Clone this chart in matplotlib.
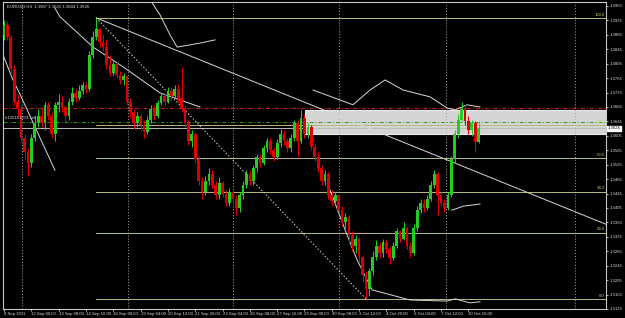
import matplotlib
matplotlib.use("Agg")
import matplotlib.pyplot as plt
from matplotlib.patches import Rectangle

plt.rcParams["font.family"] = ["Liberation Sans", "DejaVu Sans"]

# EURUSD H4 candles, bar index = position
closes = [1.3912, 1.3880, 1.3790, 1.3700, 1.3680, 1.3600, 1.3560, 1.3530, 1.3600, 1.3640,
          1.3660, 1.3640, 1.3690, 1.3660, 1.3610, 1.3690, 1.3700, 1.3685, 1.3660, 1.3700,
          1.3725, 1.3710, 1.3730, 1.3745, 1.3735, 1.3830, 1.3880, 1.3900, 1.3865, 1.3850,
          1.3800, 1.3780, 1.3805, 1.3775, 1.3760, 1.3770, 1.3700, 1.3670, 1.3640, 1.3660,
          1.3635, 1.3615, 1.3650, 1.3680, 1.3660, 1.3695, 1.3715, 1.3700, 1.3730, 1.3715,
          1.3735, 1.3710, 1.3680, 1.3640, 1.3590, 1.3610, 1.3540, 1.3480, 1.3450, 1.3480,
          1.3500, 1.3470, 1.3440, 1.3475, 1.3445, 1.3420, 1.3450, 1.3430, 1.3405, 1.3440,
          1.3470, 1.3500, 1.3480, 1.3515, 1.3545, 1.3530, 1.3570, 1.3590, 1.3565, 1.3545,
          1.3585, 1.3610, 1.3590, 1.3570, 1.3600, 1.3640, 1.3590, 1.3655, 1.3610, 1.3630,
          1.3575, 1.3545, 1.3515, 1.3480, 1.3500, 1.3440, 1.3425, 1.3440, 1.3400, 1.3365,
          1.3380, 1.3330, 1.3300, 1.3320, 1.3270, 1.3220, 1.3180, 1.3230, 1.3270, 1.3300,
          1.3280, 1.3310, 1.3290, 1.3265, 1.3300, 1.3340, 1.3320, 1.3350, 1.3300, 1.3280,
          1.3350, 1.3400, 1.3420, 1.3405, 1.3430, 1.3470, 1.3500, 1.3440, 1.3420, 1.3405,
          1.3440, 1.3540, 1.3610, 1.3650, 1.3680, 1.3645, 1.3620, 1.3640, 1.3587, 1.3626]
highs = [1.3926, 1.3920, 1.3885, 1.3800, 1.3720, 1.3690, 1.3610, 1.3570, 1.3610, 1.3660,
         1.3680, 1.3685, 1.3700, 1.3700, 1.3670, 1.3700, 1.3720, 1.3715, 1.3690, 1.3710,
         1.3740, 1.3735, 1.3745, 1.3755, 1.3755, 1.3840, 1.3895, 1.3932, 1.3905, 1.3885,
         1.3870, 1.3830, 1.3815, 1.3810, 1.3785, 1.3780, 1.3775, 1.3710, 1.3680, 1.3670,
         1.3665, 1.3650, 1.3660, 1.3690, 1.3690, 1.3705, 1.3725, 1.3725, 1.3740, 1.3740,
         1.3745, 1.3750, 1.3795, 1.3690, 1.3650, 1.3620, 1.3615, 1.3550, 1.3490, 1.3495,
         1.3515, 1.3510, 1.3480, 1.3490, 1.3480, 1.3455, 1.3460, 1.3460, 1.3440, 1.3450,
         1.3480, 1.3510, 1.3510, 1.3525, 1.3555, 1.3555, 1.3580, 1.3600, 1.3600, 1.3575,
         1.3595, 1.3625, 1.3620, 1.3600, 1.3610, 1.3650, 1.3650, 1.3677, 1.3665, 1.3640,
         1.3635, 1.3585, 1.3560, 1.3525, 1.3510, 1.3505, 1.3455, 1.3450, 1.3445, 1.3410,
         1.3390, 1.3385, 1.3340, 1.3330, 1.3325, 1.3275, 1.3230, 1.3240, 1.3285, 1.3315,
         1.3310, 1.3320, 1.3320, 1.3300, 1.3310, 1.3350, 1.3345, 1.3365, 1.3355, 1.3310,
         1.3360, 1.3410, 1.3430, 1.3430, 1.3440, 1.3480, 1.3510, 1.3505, 1.3450, 1.3430,
         1.3450, 1.3550, 1.3620, 1.3665, 1.3700, 1.3690, 1.3660, 1.3650, 1.3645, 1.3641]
lows = [1.3871, 1.3870, 1.3780, 1.3690, 1.3660, 1.3590, 1.3540, 1.3495, 1.3520, 1.3590,
        1.3630, 1.3630, 1.3620, 1.3650, 1.3600, 1.3590, 1.3670, 1.3670, 1.3640, 1.3650,
        1.3690, 1.3700, 1.3705, 1.3720, 1.3725, 1.3730, 1.3820, 1.3870, 1.3850, 1.3840,
        1.3790, 1.3770, 1.3775, 1.3765, 1.3750, 1.3745, 1.3690, 1.3655, 1.3625, 1.3630,
        1.3620, 1.3600, 1.3610, 1.3640, 1.3650, 1.3655, 1.3690, 1.3690, 1.3695, 1.3705,
        1.3710, 1.3700, 1.3670, 1.3630, 1.3580, 1.3575, 1.3530, 1.3470, 1.3430, 1.3440,
        1.3470, 1.3460, 1.3430, 1.3430, 1.3435, 1.3410, 1.3410, 1.3415, 1.3386, 1.3395,
        1.3430, 1.3460, 1.3470, 1.3470, 1.3505, 1.3520, 1.3525, 1.3560, 1.3555, 1.3535,
        1.3540, 1.3575, 1.3580, 1.3560, 1.3560, 1.3590, 1.3550, 1.3585, 1.3600, 1.3600,
        1.3565, 1.3535, 1.3505, 1.3470, 1.3470, 1.3430, 1.3410, 1.3415, 1.3390, 1.3355,
        1.3350, 1.3310, 1.3285, 1.3280, 1.3255, 1.3200, 1.3153, 1.3160, 1.3220, 1.3260,
        1.3265, 1.3270, 1.3280, 1.3250, 1.3260, 1.3295, 1.3310, 1.3315, 1.3290, 1.3270,
        1.3275, 1.3340, 1.3390, 1.3395, 1.3400, 1.3425, 1.3460, 1.3385, 1.3410, 1.3395,
        1.3400, 1.3435, 1.3530, 1.3600, 1.3645, 1.3635, 1.3610, 1.3605, 1.3560, 1.3584]
first_open = 1.3885

# white indicator curves (bar index, price)
ma_x = [14.9, 16.4, 26.1, 34.9, 45.7, 57.4]
ma_y = [1.3959, 1.3935, 1.3851, 1.3796, 1.3724, 1.3685]
left_x = [-1.2, 2.6, 4.1, 14.9]
left_y = [1.3851, 1.3760, 1.3732, 1.3510]
up1_x = [42.8, 45.7, 48.6, 50.7, 57.4, 61.8]
up1_y = [1.3982, 1.3940, 1.3885, 1.3851, 1.3862, 1.3871]
up2_x = [90.5, 102.2, 107.2, 111.6, 116.9, 124.8, 129.8, 132.1, 135.6, 139.4]
up2_y = [1.3732, 1.3691, 1.3732, 1.3760, 1.3732, 1.3713, 1.3682, 1.3677, 1.3691, 1.3685]
mid2_x = [131.2, 134.5, 139.4]
mid2_y = [1.3399, 1.3410, 1.3416]
lo2_x = [95.5, 99.9, 103.4, 107.8, 118.9, 129.8, 132.1, 136.5, 139.4]
lo2_y = [1.3455, 1.3344, 1.3261, 1.3178, 1.3150, 1.3147, 1.3153, 1.3142, 1.3145]

# fibonacci retracement
fib_hi_x, fib_hi = 27, 1.3932
fib_lo_x, fib_lo = 106, 1.3153
fib_levels = [0.0, 0.236, 0.382, 0.5, 0.618, 1.0]
fib_names = ["0.0", "23.6", "38.2", "50.0", "61.8", "100.0"]

# trend line anchors
trend_x = [27, 140]
trend_y = [1.3932, 1.3499]

# order / price lines
sl_price = 1.3682
open_price = 1.3644
bid = 1.3626
box_x0, box_top, box_bot = 88.2, 1.3677, 1.3610

separators = [5.3, 36.3, 67.1, 98.1, 129.5, 167.3]
time_pos = [0, 8, 16, 24, 32, 40, 48, 56, 64, 72, 80, 88, 96, 104, 112, 120, 128, 136]
time_lbl = ["8 Sep 2011", "12 Sep 00:00", "13 Sep 08:00", "14 Sep 16:00", "16 Sep 00:00",
            "19 Sep 04:00", "20 Sep 12:00", "21 Sep 20:00", "23 Sep 04:00", "26 Sep 08:00",
            "27 Sep 16:00", "29 Sep 00:00", "30 Sep 08:00", "3 Oct 12:00", "4 Oct 20:00",
            "6 Oct 04:00", "7 Oct 12:00", "10 Oct 16:00"]
price_ticks = [1.3965 - 0.004 * k for k in range(22)]

XMIN, XMAX = -0.3, 176.3
YMIN, YMAX = 1.3125, 1.3976

fig = plt.figure(figsize=(6.25, 3.18), dpi=100, facecolor="black")
ax = fig.add_axes([3 / 625, 9 / 318, 603 / 625, 307 / 318], facecolor="black")
ax.set_xlim(XMIN, XMAX)
ax.set_ylim(YMIN, YMAX)

fib_col = "#b9b97c"
white = "#d8d8d8"
FS = 3.1

# background objects
ax.add_patch(Rectangle((box_x0, box_bot), XMAX - box_x0, box_top - box_bot,
                       facecolor="#d4d4d4", edgecolor="#ececec", lw=0.8, zorder=1))
for s in separators:
    ax.axvline(s, color="#a8a8a8", lw=0.7, ls=(0, (1, 2)), zorder=1.5)

ax.axhline(sl_price, color="#d02020", lw=0.7, ls=(0, (4, 2, 1, 2)), zorder=0.5)
ax.axhline(open_price, color="#2a9a2a", lw=0.7, ls=(0, (4, 2, 1, 2)), zorder=1.6)
ax.axhline(bid, color="#bcbcbc", lw=0.7, zorder=1.6)

rng = fib_hi - fib_lo
for lv, nm in zip(fib_levels, fib_names):
    p = fib_lo + lv * rng
    ax.plot([fib_hi_x, XMAX], [p, p], color=fib_col, lw=0.7, zorder=1.7)
    ax.text(XMAX - 0.3, p + 0.0003, nm, color="#d4d46a", fontsize=FS,
            ha="right", va="bottom", zorder=5)
ax.plot([fib_hi_x, fib_lo_x], [fib_hi, fib_lo], color=white, lw=0.7,
        ls=(0, (1.5, 2)), zorder=1.8)

slope = (trend_y[1] - trend_y[0]) / (trend_x[1] - trend_x[0])
ax.plot([trend_x[0], XMAX], [trend_y[0], trend_y[0] + slope * (XMAX - trend_x[0])],
        color=white, lw=0.7, zorder=1.8)

curves = [(ma_x, ma_y), (left_x, left_y), (up1_x, up1_y), (up2_x, up2_y),
          (mid2_x, mid2_y), (lo2_x, lo2_y)]
for xs, ys in curves:
    ax.plot(xs, ys, color=white, lw=0.7, zorder=2)

# candles
opens = [first_open] + closes[:-1]
for i, (o, h, l, c) in enumerate(zip(opens, highs, lows, closes)):
    col = "#22cc22" if c >= o else "#dd0000"
    ax.plot([i, i], [l, h], color=col, lw=0.75, zorder=3, solid_capstyle="butt")
    ax.add_patch(Rectangle((i - 0.4, min(o, c)), 0.8, max(abs(c - o), 0.00012),
                           facecolor=col, edgecolor="none", zorder=3.1))

# texts
ax.text(0.8, YMAX - 0.0006, "EURUSD,H4  1.3587 1.3641 1.3584 1.3626", color="#e0e0e0",
        fontsize=FS, ha="left", va="top", zorder=6)
ax.text(0.2, open_price + 0.0006, "#125101374 sell", color="#e0e0e0", fontsize=FS,
        ha="left", va="bottom", zorder=6)

# axes
for side in ["left", "right", "bottom", "top"]:
    ax.spines[side].set_color("#c8c8c8")
    ax.spines[side].set_linewidth(0.8)
ax.yaxis.tick_right()
ax.set_yticks(price_ticks)
ax.set_yticklabels([f"{p:.4f}" for p in price_ticks])
ax.tick_params(axis="y", colors="#d8d8d8", labelsize=FS, length=1.5, width=0.6, pad=1)
ax.set_xticks(time_pos)
ax.set_xticklabels(time_lbl, ha="left")
ax.tick_params(axis="x", colors="#d8d8d8", labelsize=FS, length=1.5, width=0.6, pad=0.8)
ax.text(1.0025, bid, f"{bid:.4f}", transform=ax.get_yaxis_transform(), color="black",
        fontsize=FS, ha="left", va="center", zorder=7, clip_on=False,
        bbox=dict(boxstyle="square,pad=0.15", facecolor="white", edgecolor="white"))

fig.savefig("out.png", dpi=100, facecolor="black")
